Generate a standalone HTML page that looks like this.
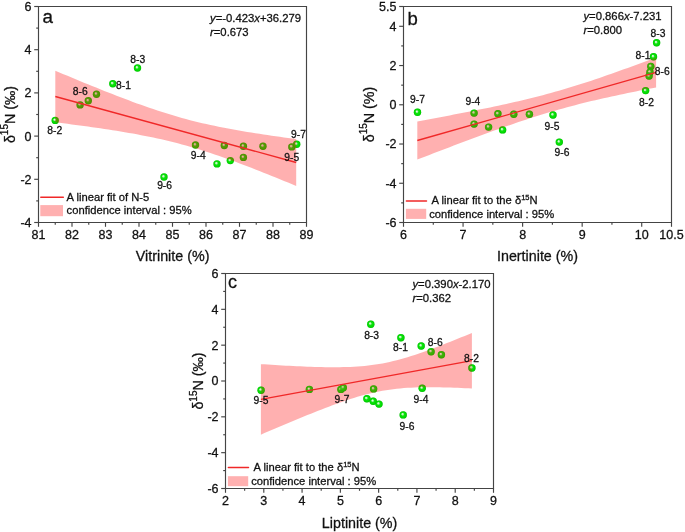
<!DOCTYPE html>
<html><head><meta charset="utf-8"><style>
html,body{margin:0;padding:0;background:#fff;}
svg{display:block;font-family:"Liberation Sans", sans-serif;will-change:transform;filter:blur(0.3px);}
text{fill:#111;stroke:#111;stroke-width:0.28px;}
</style></head><body>
<svg width="685" height="532" viewBox="0 0 685 532">
<defs>
<radialGradient id="sph" cx="0.5" cy="0.5" r="0.5" fx="0.38" fy="0.36">
<stop offset="0" stop-color="#f4fff4"/>
<stop offset="0.22" stop-color="#b0f4b0"/>
<stop offset="0.45" stop-color="#10e010"/>
<stop offset="0.8" stop-color="#00dc00"/>
<stop offset="1" stop-color="#00c000"/>
</radialGradient>
</defs>
<rect width="685" height="532" fill="#fff"/>
<circle cx="55.20" cy="120.40" r="3.7" fill="url(#sph)"/>
<circle cx="137.50" cy="68.00" r="3.7" fill="url(#sph)"/>
<circle cx="112.80" cy="83.80" r="3.7" fill="url(#sph)"/>
<circle cx="80.10" cy="104.90" r="3.7" fill="url(#sph)"/>
<circle cx="88.30" cy="100.80" r="3.7" fill="url(#sph)"/>
<circle cx="96.50" cy="94.20" r="3.7" fill="url(#sph)"/>
<circle cx="164.00" cy="177.00" r="3.7" fill="url(#sph)"/>
<circle cx="195.50" cy="145.00" r="3.7" fill="url(#sph)"/>
<circle cx="224.30" cy="145.50" r="3.7" fill="url(#sph)"/>
<circle cx="243.40" cy="146.20" r="3.7" fill="url(#sph)"/>
<circle cx="263.00" cy="146.20" r="3.7" fill="url(#sph)"/>
<circle cx="291.80" cy="146.90" r="3.7" fill="url(#sph)"/>
<circle cx="296.70" cy="144.30" r="3.7" fill="url(#sph)"/>
<circle cx="217.00" cy="163.90" r="3.7" fill="url(#sph)"/>
<circle cx="230.30" cy="160.60" r="3.7" fill="url(#sph)"/>
<circle cx="243.40" cy="157.40" r="3.7" fill="url(#sph)"/>
<circle cx="417.50" cy="112.30" r="3.7" fill="url(#sph)"/>
<circle cx="474.10" cy="113.10" r="3.7" fill="url(#sph)"/>
<circle cx="474.10" cy="124.10" r="3.7" fill="url(#sph)"/>
<circle cx="488.60" cy="127.10" r="3.7" fill="url(#sph)"/>
<circle cx="502.60" cy="129.90" r="3.7" fill="url(#sph)"/>
<circle cx="497.90" cy="113.80" r="3.7" fill="url(#sph)"/>
<circle cx="513.80" cy="114.30" r="3.7" fill="url(#sph)"/>
<circle cx="529.40" cy="114.30" r="3.7" fill="url(#sph)"/>
<circle cx="553.00" cy="115.00" r="3.7" fill="url(#sph)"/>
<circle cx="559.30" cy="142.10" r="3.7" fill="url(#sph)"/>
<circle cx="656.60" cy="42.80" r="3.7" fill="url(#sph)"/>
<circle cx="653.50" cy="56.80" r="3.7" fill="url(#sph)"/>
<circle cx="650.80" cy="66.40" r="3.7" fill="url(#sph)"/>
<circle cx="650.00" cy="72.20" r="3.7" fill="url(#sph)"/>
<circle cx="649.10" cy="76.10" r="3.7" fill="url(#sph)"/>
<circle cx="645.60" cy="90.60" r="3.7" fill="url(#sph)"/>
<circle cx="370.80" cy="324.20" r="3.7" fill="url(#sph)"/>
<circle cx="261.10" cy="390.20" r="3.7" fill="url(#sph)"/>
<circle cx="309.40" cy="389.40" r="3.7" fill="url(#sph)"/>
<circle cx="340.90" cy="389.40" r="3.7" fill="url(#sph)"/>
<circle cx="343.30" cy="387.70" r="3.7" fill="url(#sph)"/>
<circle cx="373.60" cy="388.90" r="3.7" fill="url(#sph)"/>
<circle cx="366.90" cy="398.70" r="3.7" fill="url(#sph)"/>
<circle cx="373.20" cy="401.30" r="3.7" fill="url(#sph)"/>
<circle cx="379.00" cy="404.10" r="3.7" fill="url(#sph)"/>
<circle cx="400.90" cy="337.70" r="3.7" fill="url(#sph)"/>
<circle cx="421.20" cy="346.00" r="3.7" fill="url(#sph)"/>
<circle cx="431.10" cy="351.70" r="3.7" fill="url(#sph)"/>
<circle cx="441.40" cy="354.70" r="3.7" fill="url(#sph)"/>
<circle cx="471.90" cy="368.00" r="3.7" fill="url(#sph)"/>
<circle cx="422.20" cy="388.30" r="3.7" fill="url(#sph)"/>
<circle cx="403.20" cy="414.90" r="3.7" fill="url(#sph)"/>
<path d="M55.30,70.72 L59.38,72.44 L63.47,74.16 L67.55,75.86 L71.63,77.57 L75.72,79.26 L79.80,80.95 L83.88,82.63 L87.96,84.30 L92.05,85.96 L96.13,87.62 L100.21,89.26 L104.30,90.89 L108.38,92.51 L112.46,94.11 L116.55,95.70 L120.63,97.27 L124.71,98.83 L128.79,100.37 L132.88,101.88 L136.96,103.38 L141.04,104.85 L145.13,106.30 L149.21,107.72 L153.29,109.11 L157.38,110.48 L161.46,111.81 L165.54,113.10 L169.63,114.37 L173.71,115.60 L177.79,116.79 L181.87,117.94 L185.96,119.06 L190.04,120.14 L194.12,121.18 L198.21,122.19 L202.29,123.16 L206.37,124.09 L210.46,125.00 L214.54,125.87 L218.62,126.71 L222.71,127.53 L226.79,128.31 L230.87,129.08 L234.95,129.82 L239.04,130.54 L243.12,131.23 L247.20,131.91 L251.29,132.58 L255.37,133.22 L259.45,133.85 L263.54,134.47 L267.62,135.08 L271.70,135.67 L275.78,136.26 L279.87,136.83 L283.95,137.39 L288.03,137.95 L292.12,138.50 L296.20,139.04 L296.20,185.96 L292.12,184.26 L288.03,182.57 L283.95,180.89 L279.87,179.22 L275.78,177.56 L271.70,175.90 L267.62,174.26 L263.54,172.63 L259.45,171.01 L255.37,169.41 L251.29,167.81 L247.20,166.24 L243.12,164.68 L239.04,163.14 L234.95,161.62 L230.87,160.13 L226.79,158.65 L222.71,157.20 L218.62,155.78 L214.54,154.38 L210.46,153.02 L206.37,151.68 L202.29,150.38 L198.21,149.12 L194.12,147.89 L190.04,146.69 L185.96,145.53 L181.87,144.41 L177.79,143.33 L173.71,142.29 L169.63,141.28 L165.54,140.30 L161.46,139.36 L157.38,138.46 L153.29,137.58 L149.21,136.74 L145.13,135.92 L141.04,135.13 L136.96,134.37 L132.88,133.62 L128.79,132.90 L124.71,132.20 L120.63,131.52 L116.55,130.86 L112.46,130.21 L108.38,129.58 L104.30,128.96 L100.21,128.35 L96.13,127.76 L92.05,127.17 L87.96,126.60 L83.88,126.03 L79.80,125.47 L75.72,124.92 L71.63,124.38 L67.55,123.85 L63.47,123.32 L59.38,122.79 L55.30,122.28 Z" fill="rgba(255,0,0,0.31)"/>
<path d="M417.30,121.38 L421.35,120.64 L425.39,119.90 L429.44,119.16 L433.49,118.41 L437.54,117.66 L441.58,116.91 L445.63,116.15 L449.68,115.39 L453.73,114.62 L457.77,113.84 L461.82,113.06 L465.87,112.27 L469.92,111.48 L473.96,110.68 L478.01,109.87 L482.06,109.05 L486.11,108.23 L490.15,107.39 L494.20,106.54 L498.25,105.68 L502.30,104.81 L506.34,103.92 L510.39,103.02 L514.44,102.10 L518.49,101.17 L522.53,100.22 L526.58,99.25 L530.63,98.26 L534.68,97.25 L538.72,96.21 L542.77,95.16 L546.82,94.08 L550.87,92.97 L554.91,91.85 L558.96,90.69 L563.01,89.52 L567.06,88.32 L571.10,87.09 L575.15,85.84 L579.20,84.57 L583.25,83.28 L587.29,81.96 L591.34,80.63 L595.39,79.27 L599.44,77.90 L603.48,76.51 L607.53,75.10 L611.58,73.68 L615.63,72.25 L619.67,70.80 L623.72,69.35 L627.77,67.88 L631.82,66.40 L635.86,64.91 L639.91,63.41 L643.96,61.90 L648.01,60.39 L652.05,58.87 L656.10,57.34 L656.10,87.46 L652.05,88.24 L648.01,89.03 L643.96,89.82 L639.91,90.62 L635.86,91.44 L631.82,92.25 L627.77,93.08 L623.72,93.92 L619.67,94.77 L615.63,95.63 L611.58,96.51 L607.53,97.40 L603.48,98.30 L599.44,99.22 L595.39,100.16 L591.34,101.11 L587.29,102.08 L583.25,103.08 L579.20,104.09 L575.15,105.13 L571.10,106.19 L567.06,107.27 L563.01,108.38 L558.96,109.51 L554.91,110.67 L550.87,111.85 L546.82,113.05 L542.77,114.28 L538.72,115.53 L534.68,116.81 L530.63,118.11 L526.58,119.42 L522.53,120.76 L518.49,122.12 L514.44,123.49 L510.39,124.89 L506.34,126.29 L502.30,127.71 L498.25,129.15 L494.20,130.60 L490.15,132.06 L486.11,133.53 L482.06,135.01 L478.01,136.50 L473.96,138.00 L469.92,139.51 L465.87,141.02 L461.82,142.55 L457.77,144.07 L453.73,145.61 L449.68,147.15 L445.63,148.69 L441.58,150.24 L437.54,151.80 L433.49,153.35 L429.44,154.92 L425.39,156.48 L421.35,158.05 L417.30,159.62 Z" fill="rgba(255,0,0,0.31)"/>
<path d="M260.90,364.14 L264.48,364.37 L268.05,364.59 L271.63,364.81 L275.21,365.02 L278.78,365.23 L282.36,365.43 L285.93,365.63 L289.51,365.82 L293.09,366.00 L296.66,366.17 L300.24,366.33 L303.82,366.49 L307.39,366.63 L310.97,366.76 L314.54,366.88 L318.12,366.98 L321.70,367.07 L325.27,367.13 L328.85,367.18 L332.43,367.21 L336.00,367.21 L339.58,367.18 L343.15,367.12 L346.73,367.03 L350.31,366.90 L353.88,366.73 L357.46,366.51 L361.04,366.24 L364.61,365.92 L368.19,365.55 L371.76,365.11 L375.34,364.61 L378.92,364.04 L382.49,363.41 L386.07,362.71 L389.65,361.94 L393.22,361.11 L396.80,360.21 L400.37,359.26 L403.95,358.24 L407.53,357.18 L411.10,356.07 L414.68,354.92 L418.26,353.72 L421.83,352.49 L425.41,351.22 L428.98,349.93 L432.56,348.61 L436.14,347.26 L439.71,345.90 L443.29,344.51 L446.87,343.11 L450.44,341.69 L454.02,340.26 L457.59,338.81 L461.17,337.35 L464.75,335.88 L468.32,334.40 L471.90,332.91 L471.90,388.49 L468.32,388.31 L464.75,388.14 L461.17,387.99 L457.59,387.84 L454.02,387.70 L450.44,387.58 L446.87,387.47 L443.29,387.38 L439.71,387.31 L436.14,387.25 L432.56,387.22 L428.98,387.21 L425.41,387.23 L421.83,387.28 L418.26,387.36 L414.68,387.47 L411.10,387.63 L407.53,387.83 L403.95,388.08 L400.37,388.38 L396.80,388.74 L393.22,389.16 L389.65,389.63 L386.07,390.18 L382.49,390.79 L378.92,391.47 L375.34,392.21 L371.76,393.02 L368.19,393.90 L364.61,394.83 L361.04,395.82 L357.46,396.87 L353.88,397.97 L350.31,399.11 L346.73,400.29 L343.15,401.51 L339.58,402.76 L336.00,404.04 L332.43,405.36 L328.85,406.69 L325.27,408.05 L321.70,409.43 L318.12,410.83 L314.54,412.24 L310.97,413.67 L307.39,415.12 L303.82,416.57 L300.24,418.04 L296.66,419.51 L293.09,421.00 L289.51,422.49 L285.93,423.99 L282.36,425.50 L278.78,427.01 L275.21,428.53 L271.63,430.06 L268.05,431.59 L264.48,433.12 L260.90,434.66 Z" fill="rgba(255,0,0,0.31)"/>
<circle cx="417.50" cy="112.30" r="3.7" fill="url(#sph)" opacity="0.3"/>
<circle cx="474.10" cy="113.10" r="3.7" fill="url(#sph)" opacity="0.3"/>
<circle cx="474.10" cy="124.10" r="3.7" fill="url(#sph)" opacity="0.3"/>
<circle cx="488.60" cy="127.10" r="3.7" fill="url(#sph)" opacity="0.3"/>
<circle cx="502.60" cy="129.90" r="3.7" fill="url(#sph)" opacity="0.3"/>
<circle cx="497.90" cy="113.80" r="3.7" fill="url(#sph)" opacity="0.3"/>
<circle cx="513.80" cy="114.30" r="3.7" fill="url(#sph)" opacity="0.3"/>
<circle cx="529.40" cy="114.30" r="3.7" fill="url(#sph)" opacity="0.3"/>
<circle cx="553.00" cy="115.00" r="3.7" fill="url(#sph)" opacity="0.3"/>
<circle cx="559.30" cy="142.10" r="3.7" fill="url(#sph)" opacity="0.3"/>
<circle cx="656.60" cy="42.80" r="3.7" fill="url(#sph)" opacity="0.3"/>
<circle cx="653.50" cy="56.80" r="3.7" fill="url(#sph)" opacity="0.3"/>
<circle cx="650.80" cy="66.40" r="3.7" fill="url(#sph)" opacity="0.3"/>
<circle cx="650.00" cy="72.20" r="3.7" fill="url(#sph)" opacity="0.3"/>
<circle cx="649.10" cy="76.10" r="3.7" fill="url(#sph)" opacity="0.3"/>
<circle cx="645.60" cy="90.60" r="3.7" fill="url(#sph)" opacity="0.3"/>
<circle cx="370.80" cy="324.20" r="3.7" fill="url(#sph)" opacity="0.3"/>
<circle cx="261.10" cy="390.20" r="3.7" fill="url(#sph)" opacity="0.3"/>
<circle cx="309.40" cy="389.40" r="3.7" fill="url(#sph)" opacity="0.3"/>
<circle cx="340.90" cy="389.40" r="3.7" fill="url(#sph)" opacity="0.3"/>
<circle cx="343.30" cy="387.70" r="3.7" fill="url(#sph)" opacity="0.3"/>
<circle cx="373.60" cy="388.90" r="3.7" fill="url(#sph)" opacity="0.3"/>
<circle cx="366.90" cy="398.70" r="3.7" fill="url(#sph)" opacity="0.3"/>
<circle cx="373.20" cy="401.30" r="3.7" fill="url(#sph)" opacity="0.3"/>
<circle cx="379.00" cy="404.10" r="3.7" fill="url(#sph)" opacity="0.3"/>
<circle cx="400.90" cy="337.70" r="3.7" fill="url(#sph)" opacity="0.3"/>
<circle cx="421.20" cy="346.00" r="3.7" fill="url(#sph)" opacity="0.3"/>
<circle cx="431.10" cy="351.70" r="3.7" fill="url(#sph)" opacity="0.3"/>
<circle cx="441.40" cy="354.70" r="3.7" fill="url(#sph)" opacity="0.3"/>
<circle cx="471.90" cy="368.00" r="3.7" fill="url(#sph)" opacity="0.3"/>
<circle cx="422.20" cy="388.30" r="3.7" fill="url(#sph)" opacity="0.3"/>
<circle cx="403.20" cy="414.90" r="3.7" fill="url(#sph)" opacity="0.3"/>
<line x1="55.30" y1="96.50" x2="296.20" y2="162.50" stroke="#f02828" stroke-width="1.3" stroke-linecap="butt"/>
<line x1="417.30" y1="140.50" x2="656.10" y2="72.40" stroke="#f02828" stroke-width="1.3" stroke-linecap="butt"/>
<line x1="260.90" y1="399.40" x2="471.90" y2="360.70" stroke="#f02828" stroke-width="1.3" stroke-linecap="butt"/>
<path d="M38.5,222.5 L38.5,6.5 L306.5,6.5 L306.5,222.5 Z" fill="none" stroke="#444" stroke-width="1.15"/>
<line x1="38.50" y1="222.50" x2="38.50" y2="226.80" stroke="#444" stroke-width="1.15" stroke-linecap="butt"/>
<text x="38.50" y="239.30" font-size="12.5" text-anchor="middle" >81</text>
<line x1="72.00" y1="222.50" x2="72.00" y2="226.80" stroke="#444" stroke-width="1.15" stroke-linecap="butt"/>
<text x="72.00" y="239.30" font-size="12.5" text-anchor="middle" >82</text>
<line x1="105.50" y1="222.50" x2="105.50" y2="226.80" stroke="#444" stroke-width="1.15" stroke-linecap="butt"/>
<text x="105.50" y="239.30" font-size="12.5" text-anchor="middle" >83</text>
<line x1="139.00" y1="222.50" x2="139.00" y2="226.80" stroke="#444" stroke-width="1.15" stroke-linecap="butt"/>
<text x="139.00" y="239.30" font-size="12.5" text-anchor="middle" >84</text>
<line x1="172.50" y1="222.50" x2="172.50" y2="226.80" stroke="#444" stroke-width="1.15" stroke-linecap="butt"/>
<text x="172.50" y="239.30" font-size="12.5" text-anchor="middle" >85</text>
<line x1="206.00" y1="222.50" x2="206.00" y2="226.80" stroke="#444" stroke-width="1.15" stroke-linecap="butt"/>
<text x="206.00" y="239.30" font-size="12.5" text-anchor="middle" >86</text>
<line x1="239.50" y1="222.50" x2="239.50" y2="226.80" stroke="#444" stroke-width="1.15" stroke-linecap="butt"/>
<text x="239.50" y="239.30" font-size="12.5" text-anchor="middle" >87</text>
<line x1="273.00" y1="222.50" x2="273.00" y2="226.80" stroke="#444" stroke-width="1.15" stroke-linecap="butt"/>
<text x="273.00" y="239.30" font-size="12.5" text-anchor="middle" >88</text>
<line x1="306.50" y1="222.50" x2="306.50" y2="226.80" stroke="#444" stroke-width="1.15" stroke-linecap="butt"/>
<text x="306.50" y="239.30" font-size="12.5" text-anchor="middle" >89</text>
<line x1="55.25" y1="222.50" x2="55.25" y2="224.80" stroke="#444" stroke-width="1.15" stroke-linecap="butt"/>
<line x1="88.75" y1="222.50" x2="88.75" y2="224.80" stroke="#444" stroke-width="1.15" stroke-linecap="butt"/>
<line x1="122.25" y1="222.50" x2="122.25" y2="224.80" stroke="#444" stroke-width="1.15" stroke-linecap="butt"/>
<line x1="155.75" y1="222.50" x2="155.75" y2="224.80" stroke="#444" stroke-width="1.15" stroke-linecap="butt"/>
<line x1="189.25" y1="222.50" x2="189.25" y2="224.80" stroke="#444" stroke-width="1.15" stroke-linecap="butt"/>
<line x1="222.75" y1="222.50" x2="222.75" y2="224.80" stroke="#444" stroke-width="1.15" stroke-linecap="butt"/>
<line x1="256.25" y1="222.50" x2="256.25" y2="224.80" stroke="#444" stroke-width="1.15" stroke-linecap="butt"/>
<line x1="289.75" y1="222.50" x2="289.75" y2="224.80" stroke="#444" stroke-width="1.15" stroke-linecap="butt"/>
<line x1="34.20" y1="222.50" x2="38.50" y2="222.50" stroke="#444" stroke-width="1.15" stroke-linecap="butt"/>
<text x="31.50" y="226.90" font-size="12.5" text-anchor="end" >-4</text>
<line x1="34.20" y1="179.30" x2="38.50" y2="179.30" stroke="#444" stroke-width="1.15" stroke-linecap="butt"/>
<text x="31.50" y="183.70" font-size="12.5" text-anchor="end" >-2</text>
<line x1="34.20" y1="136.10" x2="38.50" y2="136.10" stroke="#444" stroke-width="1.15" stroke-linecap="butt"/>
<text x="31.50" y="140.50" font-size="12.5" text-anchor="end" >0</text>
<line x1="34.20" y1="92.90" x2="38.50" y2="92.90" stroke="#444" stroke-width="1.15" stroke-linecap="butt"/>
<text x="31.50" y="97.30" font-size="12.5" text-anchor="end" >2</text>
<line x1="34.20" y1="49.70" x2="38.50" y2="49.70" stroke="#444" stroke-width="1.15" stroke-linecap="butt"/>
<text x="31.50" y="54.10" font-size="12.5" text-anchor="end" >4</text>
<line x1="34.20" y1="6.50" x2="38.50" y2="6.50" stroke="#444" stroke-width="1.15" stroke-linecap="butt"/>
<text x="31.50" y="10.90" font-size="12.5" text-anchor="end" >6</text>
<line x1="36.20" y1="200.90" x2="38.50" y2="200.90" stroke="#444" stroke-width="1.15" stroke-linecap="butt"/>
<line x1="36.20" y1="157.70" x2="38.50" y2="157.70" stroke="#444" stroke-width="1.15" stroke-linecap="butt"/>
<line x1="36.20" y1="114.50" x2="38.50" y2="114.50" stroke="#444" stroke-width="1.15" stroke-linecap="butt"/>
<line x1="36.20" y1="71.30" x2="38.50" y2="71.30" stroke="#444" stroke-width="1.15" stroke-linecap="butt"/>
<line x1="36.20" y1="28.10" x2="38.50" y2="28.10" stroke="#444" stroke-width="1.15" stroke-linecap="butt"/>
<path d="M403.5,222.5 L403.5,6.5 L671.5,6.5 L671.5,222.5 Z" fill="none" stroke="#444" stroke-width="1.15"/>
<line x1="403.50" y1="222.50" x2="403.50" y2="226.80" stroke="#444" stroke-width="1.15" stroke-linecap="butt"/>
<text x="403.50" y="239.30" font-size="12.5" text-anchor="middle" >6</text>
<line x1="463.06" y1="222.50" x2="463.06" y2="226.80" stroke="#444" stroke-width="1.15" stroke-linecap="butt"/>
<text x="463.06" y="239.30" font-size="12.5" text-anchor="middle" >7</text>
<line x1="522.61" y1="222.50" x2="522.61" y2="226.80" stroke="#444" stroke-width="1.15" stroke-linecap="butt"/>
<text x="522.61" y="239.30" font-size="12.5" text-anchor="middle" >8</text>
<line x1="582.17" y1="222.50" x2="582.17" y2="226.80" stroke="#444" stroke-width="1.15" stroke-linecap="butt"/>
<text x="582.17" y="239.30" font-size="12.5" text-anchor="middle" >9</text>
<line x1="641.72" y1="222.50" x2="641.72" y2="226.80" stroke="#444" stroke-width="1.15" stroke-linecap="butt"/>
<text x="641.72" y="239.30" font-size="12.5" text-anchor="middle" >10</text>
<line x1="671.50" y1="222.50" x2="671.50" y2="226.80" stroke="#444" stroke-width="1.15" stroke-linecap="butt"/>
<text x="671.50" y="239.30" font-size="12.5" text-anchor="middle" >10.5</text>
<line x1="433.28" y1="222.50" x2="433.28" y2="224.80" stroke="#444" stroke-width="1.15" stroke-linecap="butt"/>
<line x1="492.83" y1="222.50" x2="492.83" y2="224.80" stroke="#444" stroke-width="1.15" stroke-linecap="butt"/>
<line x1="552.39" y1="222.50" x2="552.39" y2="224.80" stroke="#444" stroke-width="1.15" stroke-linecap="butt"/>
<line x1="611.94" y1="222.50" x2="611.94" y2="224.80" stroke="#444" stroke-width="1.15" stroke-linecap="butt"/>
<line x1="399.20" y1="222.50" x2="403.50" y2="222.50" stroke="#444" stroke-width="1.15" stroke-linecap="butt"/>
<text x="396.50" y="226.90" font-size="12.5" text-anchor="end" >-6</text>
<line x1="399.20" y1="183.26" x2="403.50" y2="183.26" stroke="#444" stroke-width="1.15" stroke-linecap="butt"/>
<text x="396.50" y="187.66" font-size="12.5" text-anchor="end" >-4</text>
<line x1="399.20" y1="144.02" x2="403.50" y2="144.02" stroke="#444" stroke-width="1.15" stroke-linecap="butt"/>
<text x="396.50" y="148.42" font-size="12.5" text-anchor="end" >-2</text>
<line x1="399.20" y1="104.78" x2="403.50" y2="104.78" stroke="#444" stroke-width="1.15" stroke-linecap="butt"/>
<text x="396.50" y="109.18" font-size="12.5" text-anchor="end" >0</text>
<line x1="399.20" y1="65.54" x2="403.50" y2="65.54" stroke="#444" stroke-width="1.15" stroke-linecap="butt"/>
<text x="396.50" y="69.94" font-size="12.5" text-anchor="end" >2</text>
<line x1="399.20" y1="26.30" x2="403.50" y2="26.30" stroke="#444" stroke-width="1.15" stroke-linecap="butt"/>
<text x="396.50" y="30.70" font-size="12.5" text-anchor="end" >4</text>
<line x1="399.20" y1="6.50" x2="403.50" y2="6.50" stroke="#444" stroke-width="1.15" stroke-linecap="butt"/>
<text x="396.50" y="10.90" font-size="12.5" text-anchor="end" >5.5</text>
<line x1="401.20" y1="202.88" x2="403.50" y2="202.88" stroke="#444" stroke-width="1.15" stroke-linecap="butt"/>
<line x1="401.20" y1="163.64" x2="403.50" y2="163.64" stroke="#444" stroke-width="1.15" stroke-linecap="butt"/>
<line x1="401.20" y1="124.40" x2="403.50" y2="124.40" stroke="#444" stroke-width="1.15" stroke-linecap="butt"/>
<line x1="401.20" y1="85.16" x2="403.50" y2="85.16" stroke="#444" stroke-width="1.15" stroke-linecap="butt"/>
<line x1="401.20" y1="45.92" x2="403.50" y2="45.92" stroke="#444" stroke-width="1.15" stroke-linecap="butt"/>
<path d="M225.5,488.5 L225.5,273.5 L493.5,273.5 L493.5,488.5 Z" fill="none" stroke="#444" stroke-width="1.15"/>
<line x1="225.50" y1="488.50" x2="225.50" y2="492.80" stroke="#444" stroke-width="1.15" stroke-linecap="butt"/>
<text x="225.50" y="505.30" font-size="12.5" text-anchor="middle" >2</text>
<line x1="263.79" y1="488.50" x2="263.79" y2="492.80" stroke="#444" stroke-width="1.15" stroke-linecap="butt"/>
<text x="263.79" y="505.30" font-size="12.5" text-anchor="middle" >3</text>
<line x1="302.07" y1="488.50" x2="302.07" y2="492.80" stroke="#444" stroke-width="1.15" stroke-linecap="butt"/>
<text x="302.07" y="505.30" font-size="12.5" text-anchor="middle" >4</text>
<line x1="340.36" y1="488.50" x2="340.36" y2="492.80" stroke="#444" stroke-width="1.15" stroke-linecap="butt"/>
<text x="340.36" y="505.30" font-size="12.5" text-anchor="middle" >5</text>
<line x1="378.64" y1="488.50" x2="378.64" y2="492.80" stroke="#444" stroke-width="1.15" stroke-linecap="butt"/>
<text x="378.64" y="505.30" font-size="12.5" text-anchor="middle" >6</text>
<line x1="416.93" y1="488.50" x2="416.93" y2="492.80" stroke="#444" stroke-width="1.15" stroke-linecap="butt"/>
<text x="416.93" y="505.30" font-size="12.5" text-anchor="middle" >7</text>
<line x1="455.21" y1="488.50" x2="455.21" y2="492.80" stroke="#444" stroke-width="1.15" stroke-linecap="butt"/>
<text x="455.21" y="505.30" font-size="12.5" text-anchor="middle" >8</text>
<line x1="493.50" y1="488.50" x2="493.50" y2="492.80" stroke="#444" stroke-width="1.15" stroke-linecap="butt"/>
<text x="493.50" y="505.30" font-size="12.5" text-anchor="middle" >9</text>
<line x1="244.64" y1="488.50" x2="244.64" y2="490.80" stroke="#444" stroke-width="1.15" stroke-linecap="butt"/>
<line x1="282.93" y1="488.50" x2="282.93" y2="490.80" stroke="#444" stroke-width="1.15" stroke-linecap="butt"/>
<line x1="321.21" y1="488.50" x2="321.21" y2="490.80" stroke="#444" stroke-width="1.15" stroke-linecap="butt"/>
<line x1="359.50" y1="488.50" x2="359.50" y2="490.80" stroke="#444" stroke-width="1.15" stroke-linecap="butt"/>
<line x1="397.79" y1="488.50" x2="397.79" y2="490.80" stroke="#444" stroke-width="1.15" stroke-linecap="butt"/>
<line x1="436.07" y1="488.50" x2="436.07" y2="490.80" stroke="#444" stroke-width="1.15" stroke-linecap="butt"/>
<line x1="474.36" y1="488.50" x2="474.36" y2="490.80" stroke="#444" stroke-width="1.15" stroke-linecap="butt"/>
<line x1="221.20" y1="488.50" x2="225.50" y2="488.50" stroke="#444" stroke-width="1.15" stroke-linecap="butt"/>
<text x="218.50" y="492.90" font-size="12.5" text-anchor="end" >-6</text>
<line x1="221.20" y1="452.67" x2="225.50" y2="452.67" stroke="#444" stroke-width="1.15" stroke-linecap="butt"/>
<text x="218.50" y="457.07" font-size="12.5" text-anchor="end" >-4</text>
<line x1="221.20" y1="416.83" x2="225.50" y2="416.83" stroke="#444" stroke-width="1.15" stroke-linecap="butt"/>
<text x="218.50" y="421.23" font-size="12.5" text-anchor="end" >-2</text>
<line x1="221.20" y1="381.00" x2="225.50" y2="381.00" stroke="#444" stroke-width="1.15" stroke-linecap="butt"/>
<text x="218.50" y="385.40" font-size="12.5" text-anchor="end" >0</text>
<line x1="221.20" y1="345.17" x2="225.50" y2="345.17" stroke="#444" stroke-width="1.15" stroke-linecap="butt"/>
<text x="218.50" y="349.57" font-size="12.5" text-anchor="end" >2</text>
<line x1="221.20" y1="309.33" x2="225.50" y2="309.33" stroke="#444" stroke-width="1.15" stroke-linecap="butt"/>
<text x="218.50" y="313.73" font-size="12.5" text-anchor="end" >4</text>
<line x1="221.20" y1="273.50" x2="225.50" y2="273.50" stroke="#444" stroke-width="1.15" stroke-linecap="butt"/>
<text x="218.50" y="277.90" font-size="12.5" text-anchor="end" >6</text>
<line x1="223.20" y1="470.58" x2="225.50" y2="470.58" stroke="#444" stroke-width="1.15" stroke-linecap="butt"/>
<line x1="223.20" y1="434.75" x2="225.50" y2="434.75" stroke="#444" stroke-width="1.15" stroke-linecap="butt"/>
<line x1="223.20" y1="398.92" x2="225.50" y2="398.92" stroke="#444" stroke-width="1.15" stroke-linecap="butt"/>
<line x1="223.20" y1="363.08" x2="225.50" y2="363.08" stroke="#444" stroke-width="1.15" stroke-linecap="butt"/>
<line x1="223.20" y1="327.25" x2="225.50" y2="327.25" stroke="#444" stroke-width="1.15" stroke-linecap="butt"/>
<line x1="223.20" y1="291.42" x2="225.50" y2="291.42" stroke="#444" stroke-width="1.15" stroke-linecap="butt"/>
<text x="42.50" y="22.80" font-size="18.8" text-anchor="start" >a</text>
<text x="407.50" y="25.00" font-size="18.5" text-anchor="start" >b</text>
<text x="228.00" y="288.40" font-size="18" text-anchor="start" >c</text>
<text x="210" y="21.8" font-size="11.3"><tspan font-style="italic">y</tspan>=-0.423<tspan font-style="italic">x</tspan>+36.279</text>
<text x="210" y="35.8" font-size="11.3"><tspan font-style="italic">r</tspan>=0.673</text>
<text x="583.4" y="20.1" font-size="11.3"><tspan font-style="italic">y</tspan>=0.866<tspan font-style="italic">x</tspan>-7.231</text>
<text x="583.4" y="34.1" font-size="11.3"><tspan font-style="italic">r</tspan>=0.800</text>
<text x="412.4" y="287.9" font-size="11.3"><tspan font-style="italic">y</tspan>=0.390<tspan font-style="italic">x</tspan>-2.170</text>
<text x="412.4" y="301.9" font-size="11.3"><tspan font-style="italic">r</tspan>=0.362</text>
<text x="172.60" y="261.00" font-size="14.3" text-anchor="middle" >Vitrinite (%)</text>
<text x="537.50" y="261.40" font-size="14.3" text-anchor="middle" >Inertinite (%)</text>
<text x="359.60" y="527.80" font-size="14.3" text-anchor="middle" >Liptinite (%)</text>
<text transform="translate(14.7,114.5) rotate(-90)" font-size="14.3" text-anchor="middle">&#948;<tspan font-size="10" dy="-6.3">15</tspan><tspan dy="6.3">N (</tspan>&#8240;)</text>
<text transform="translate(373.6,114.5) rotate(-90)" font-size="14.3" text-anchor="middle">&#948;<tspan font-size="10" dy="-6.3">15</tspan><tspan dy="6.3">N (</tspan>%)</text>
<text transform="translate(202.9,381) rotate(-90)" font-size="14.3" text-anchor="middle">&#948;<tspan font-size="10" dy="-6.3">15</tspan><tspan dy="6.3">N (</tspan>&#8240;)</text>
<line x1="40.80" y1="197.30" x2="63.30" y2="197.30" stroke="#f02828" stroke-width="1.5" stroke-linecap="round"/>
<rect x="40.3" y="205.1" width="22.700000000000003" height="11.099999999999994" fill="#ffb0b0"/>
<text x="66.6" y="200.8" font-size="11.2">A linear fit of N-5</text>
<text x="66.6" y="213.9" font-size="11.2">confidence interval : 95%</text>
<line x1="406.40" y1="200.90" x2="426.50" y2="200.90" stroke="#f02828" stroke-width="1.5" stroke-linecap="round"/>
<rect x="405.9" y="208.8" width="20.30000000000001" height="10.099999999999994" fill="#ffb0b0"/>
<text x="431.6" y="204.2" font-size="11.2">A linear fit to the &#948;<tspan font-size="7.5" dy="-4">15</tspan><tspan dy="4">N</tspan></text>
<text x="429.2" y="217.7" font-size="11.2">confidence interval : 95%</text>
<line x1="228.40" y1="467.50" x2="248.50" y2="467.50" stroke="#f02828" stroke-width="1.5" stroke-linecap="round"/>
<rect x="227.9" y="476.2" width="20.299999999999983" height="10.0" fill="#ffb0b0"/>
<text x="253.6" y="471" font-size="11.2">A linear fit to the &#948;<tspan font-size="7.5" dy="-4">15</tspan><tspan dy="4">N</tspan></text>
<text x="251.2" y="484.6" font-size="11.2">confidence interval : 95%</text>
<text x="137.70" y="63.00" font-size="10.3" text-anchor="middle" >8-3</text>
<text x="123.50" y="88.50" font-size="10.3" text-anchor="middle" >8-1</text>
<text x="80.20" y="95.20" font-size="10.3" text-anchor="middle" >8-6</text>
<text x="54.80" y="133.70" font-size="10.3" text-anchor="middle" >8-2</text>
<text x="164.60" y="189.40" font-size="10.3" text-anchor="middle" >9-6</text>
<text x="198.30" y="159.00" font-size="10.3" text-anchor="middle" >9-4</text>
<text x="291.80" y="161.00" font-size="10.3" text-anchor="middle" >9-5</text>
<text x="298.50" y="137.60" font-size="10.3" text-anchor="middle" >9-7</text>
<text x="417.50" y="103.40" font-size="10.3" text-anchor="middle" >9-7</text>
<text x="472.90" y="104.50" font-size="10.3" text-anchor="middle" >9-4</text>
<text x="552.00" y="129.50" font-size="10.3" text-anchor="middle" >9-5</text>
<text x="562.00" y="156.30" font-size="10.3" text-anchor="middle" >9-6</text>
<text x="658.00" y="37.10" font-size="10.3" text-anchor="middle" >8-3</text>
<text x="643.00" y="59.30" font-size="10.3" text-anchor="middle" >8-1</text>
<text x="662.20" y="74.80" font-size="10.3" text-anchor="middle" >8-6</text>
<text x="646.50" y="105.50" font-size="10.3" text-anchor="middle" >8-2</text>
<text x="371.60" y="339.20" font-size="10.3" text-anchor="middle" >8-3</text>
<text x="261.00" y="403.60" font-size="10.3" text-anchor="middle" >9-5</text>
<text x="342.00" y="403.00" font-size="10.3" text-anchor="middle" >9-7</text>
<text x="400.50" y="350.70" font-size="10.3" text-anchor="middle" >8-1</text>
<text x="435.20" y="346.00" font-size="10.3" text-anchor="middle" >8-6</text>
<text x="471.50" y="361.80" font-size="10.3" text-anchor="middle" >8-2</text>
<text x="421.00" y="402.60" font-size="10.3" text-anchor="middle" >9-4</text>
<text x="407.00" y="429.80" font-size="10.3" text-anchor="middle" >9-6</text>
</svg>
</body></html>
